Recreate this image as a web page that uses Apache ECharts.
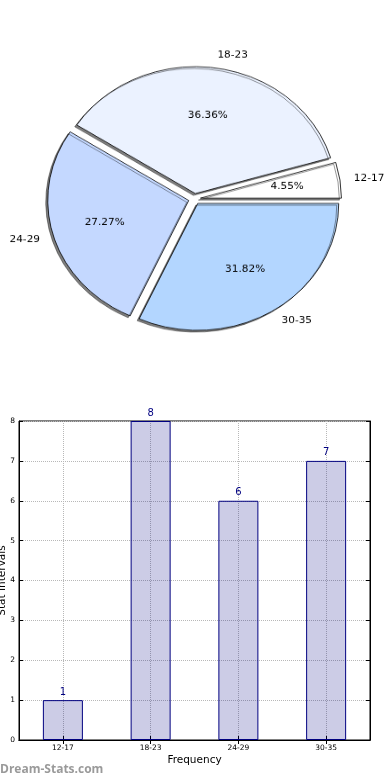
<!DOCTYPE html>
<html><head><meta charset="utf-8">
<script src="https://cdn.jsdelivr.net/npm/echarts@6/dist/echarts.min.js"></script>
<style>
html,body{margin:0;padding:0;background:#fff;}
#bar{position:absolute;left:0;top:0;width:390px;height:780px;}
#pie{position:absolute;left:0;top:0;width:390px;height:440px;transform:scaleY(0.9);transform-origin:0 0;}
</style></head><body>
<div id="bar"></div>
<div id="pie"></div>
<script>
const categories = ['12-17', '18-23', '24-29', '30-35'];
const counts = [1, 8, 6, 7];
const pieColors = ['#ffffff', '#ebf2ff', '#c4d8ff', '#b3d6ff'];
const yTicks = [0, 1, 2, 3, 4, 5, 6, 7, 8];
const FONT = 'DejaVu Sans';

const pieData = categories.map((c, i) => ({ name: c, value: counts[i], selected: true, itemStyle: { color: pieColors[i] } }));
const pieLabelData = categories.map((c, i) => ({ name: c, value: counts[i], selected: true }));

const R = 141;
const CENTER = [194.5, 221];
const pie = echarts.init(document.getElementById('pie'));
pie.setOption({
  animation: false,
  series: [
    {
      type: 'pie', center: CENTER, radius: [0, R], startAngle: 0, clockwise: false,
      selectedMode: 'multiple', selectedOffset: 6, avoidLabelOverlap: false, silent: true,
      itemStyle: { borderColor: '#000', borderWidth: 0.8, shadowColor: 'rgba(0,0,0,0.5)', shadowBlur: 0.5, shadowOffsetX: -2, shadowOffsetY: 2 },
      label: { show: true, position: 'outside', color: '#000', fontFamily: FONT, fontSize: 10.5, distanceToLabelLine: 0 },
      labelLine: { show: false, length: 14, length2: 0 },
      data: pieData
    },
    {
      type: 'pie', center: CENTER, radius: [0.2 * R, R], startAngle: 0, clockwise: false,
      selectedMode: 'multiple', selectedOffset: 6, avoidLabelOverlap: false, silent: true,
      itemStyle: { color: 'rgba(0,0,0,0)', borderWidth: 0 },
      label: { show: true, position: 'inside', color: '#000', fontFamily: FONT, fontSize: 10.5,
        formatter: p => p.percent.toFixed(2) + '%' },
      labelLine: { show: false },
      data: pieLabelData
    }
  ]
});

const bar = echarts.init(document.getElementById('bar'));
bar.setOption({
  animation: false,
  textStyle: { fontFamily: FONT },
  grid: { left: 19, right: 20, top: 421, bottom: 40, show: true, borderColor: '#000', borderWidth: 1, containLabel: false, outerBoundsMode: 'none' },
  xAxis: [
    {
      type: 'category', data: categories, position: 'bottom',
      name: 'Frequency', nameLocation: 'middle', nameGap: 15, nameMoveOverlap: false,
      nameTextStyle: { fontFamily: FONT, fontSize: 10.5, color: '#000' },
      axisLine: { lineStyle: { color: '#000' } },
      axisTick: { show: true, inside: true, alignWithLabel: true, length: 4, lineStyle: { color: '#000' } },
      axisLabel: { fontFamily: FONT, fontSize: 7.5, color: '#000', margin: 4 },
      splitLine: { show: true, alignWithLabel: true, lineStyle: { color: '#b8b8b8', type: 'dotted', width: 1 } }
    },
    {
      type: 'category', data: categories, position: 'top',
      axisLine: { lineStyle: { color: '#000' } },
      axisTick: { show: true, inside: true, alignWithLabel: true, length: 4, lineStyle: { color: '#000' } },
      axisLabel: { show: false }, splitLine: { show: false }
    }
  ],
  yAxis: [
    {
      type: 'value', min: yTicks[0], max: yTicks[yTicks.length - 1], interval: 1, position: 'left',
      name: 'Stat Intervals', nameLocation: 'middle', nameGap: 11, nameRotate: 90, nameMoveOverlap: false,
      nameTextStyle: { fontFamily: FONT, fontSize: 10.5, color: '#000' },
      axisLine: { show: true, lineStyle: { color: '#000' } },
      axisTick: { show: true, inside: true, length: 4, lineStyle: { color: '#000' } },
      axisLabel: { fontFamily: FONT, fontSize: 7.5, color: '#000', margin: 4 },
      splitLine: { show: true, lineStyle: { color: '#b8b8b8', type: 'dotted', width: 1 } }
    },
    {
      type: 'value', min: yTicks[0], max: yTicks[yTicks.length - 1], interval: 1, position: 'right',
      axisLine: { show: true, lineStyle: { color: '#000' } },
      axisTick: { show: true, inside: true, length: 4, lineStyle: { color: '#000' } },
      axisLabel: { show: false }, splitLine: { show: false }
    }
  ],
  series: [{
    type: 'bar', data: counts, xAxisIndex: 0, yAxisIndex: 0, barWidth: 40,
    itemStyle: { color: 'rgba(0,0,128,0.2)', borderColor: '#000080', borderWidth: 1 },
    label: { show: true, position: 'top', color: '#000080', fontFamily: FONT, fontSize: 10, distance: 3 }
  }],
  graphic: [{
    type: 'text', left: 0, top: 764,
    style: { text: 'Dream-Stats.com', fill: '#9a9a9a', font: 'bold 12px "Open Sans"' }
  }]
});
</script>
</body></html>
